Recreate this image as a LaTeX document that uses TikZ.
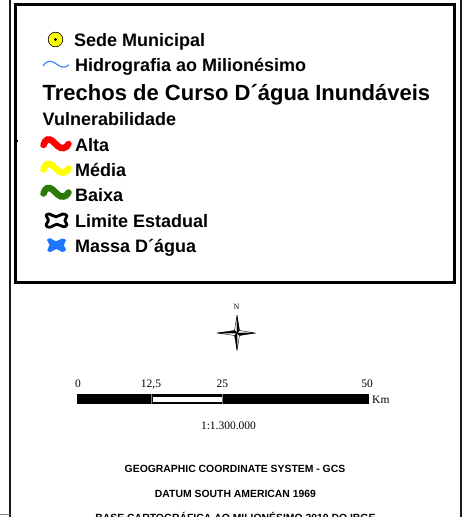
\documentclass[tikz,border=0pt]{standalone}
\usepackage{fontspec}
\setmainfont{Liberation Sans}
\newfontfamily\serifnum{Liberation Serif}
\definecolor{hidro}{HTML}{3A86FF}
\definecolor{massa}{HTML}{1E78FF}
\definecolor{vgreen}{HTML}{2A7A0A}
\definecolor{vyellow}{HTML}{FFFF00}
\definecolor{vred}{HTML}{FF0000}
\newcommand\wavecurve{(0,0) .. controls (2,-6) and (5,-7) .. (9,-4) .. controls (13,-0.5) and (16,4) .. (20,3) .. controls (23,2) .. (25,-1)}
\begin{document}
\begin{tikzpicture}[x=1pt,y=-1pt,
  legtext/.style={anchor=base west,inner sep=0pt,font=\fontsize{18}{20}\selectfont\bfseries},
  foot/.style={anchor=base,inner sep=0pt,font=\fontsize{10.4}{12}\selectfont\bfseries},
  scalelab/.style={anchor=base,inner sep=0pt,font=\serifnum\fontsize{11.5}{13}\selectfont},
  wavestyle/.style={line width=6.5pt,line cap=round},
  arm/.style={draw=black,line width=0.4pt,line join=miter}]
\useasboundingbox (0,0) rectangle (463,517);
\fill[white] (0,0) rectangle (463,517);
% outer frame lines
\draw[line width=2pt,black!90] (10.3,0) -- (10.3,517);
\draw[line width=2pt,black!90] (460.7,0) -- (460.7,517);
\draw[line width=0.8pt,gray] (0,514) -- (9.5,514);
% legend box
\draw[line width=3pt] (15.3,4) rectangle (454.3,282);
\fill (16.5,140) rectangle (18,141.5);
% Sede Municipal
\filldraw[fill=vyellow,draw=black,line width=0.6pt] (55.5,39.5) circle (7.3);
\fill (55.5,39.5) circle (1.6);
\node[legtext] (sede) at (74,46) {Sede Municipal};
% Hidrografia
\draw[hidro,line width=1.2pt] (43,66) .. controls (46,61) and (50,60) .. (55,63) .. controls (60,67) and (64,69) .. (69,65);
\node[legtext] (hidro) at (75,71) {Hidrografia ao Milionésimo};
\node[anchor=base west,inner sep=0pt,font=\fontsize{22}{24}\selectfont\bfseries] (trechos) at (42.5,100) {Trechos de Curso D´água Inundáveis};
\node[legtext] (vuln) at (42.5,125) {Vulnerabilidade};
% waves
\draw[wavestyle,vred,shift={(43.5,145)}] \wavecurve;
\node[legtext] (alta) at (75,151) {Alta};
\draw[wavestyle,vyellow,shift={(43.5,169.5)}] \wavecurve;
\node[legtext] (media) at (75,176) {Média};
\draw[wavestyle,vgreen,shift={(43.5,193.5)}] \wavecurve;
\node[legtext] (baixa) at (75,201) {Baixa};
% Limite Estadual
\draw[line width=2.8pt,line join=round] plot[smooth cycle,tension=0.6] coordinates {(46,215.5) (49.5,214) (56,216.8) (62.5,214) (67,215.8) (64.8,220.3) (67,224.8) (63.5,226.8) (57,224.3) (49.5,227.3) (46,225) (48.5,220.3)};
\node[legtext] (limite) at (75,227) {Limite Estadual};
% Massa
\fill[massa] plot[smooth cycle,tension=0.6] coordinates {(47,240) (50.5,238.3) (56,241.3) (62,238.5) (66,240.3) (63.8,245) (66,249.8) (62,252) (56.5,249) (50.5,252) (47.3,250) (49.5,245)};
\node[legtext] (massa) at (75,252) {Massa D´água};
% compass
\coordinate (c) at (237,333);
\coordinate (ct) at (237,315);
\coordinate (cb) at (237,350.5);
\coordinate (cl) at (217,333);
\coordinate (cr) at (255.5,333);
\coordinate (ne) at (239.5,330.5);
\coordinate (nw) at (234.5,330.5);
\coordinate (se) at (239.5,335.5);
\coordinate (sw) at (234.5,335.5);
\filldraw[arm,fill=white] (ct) -- (c) -- (nw) -- cycle;
\filldraw[arm,fill=black] (ct) -- (c) -- (ne) -- cycle;
\filldraw[arm,fill=white] (cr) -- (c) -- (ne) -- cycle;
\filldraw[arm,fill=black] (cr) -- (c) -- (se) -- cycle;
\filldraw[arm,fill=white] (cb) -- (c) -- (se) -- cycle;
\filldraw[arm,fill=black] (cb) -- (c) -- (sw) -- cycle;
\filldraw[arm,fill=white] (cl) -- (c) -- (sw) -- cycle;
\filldraw[arm,fill=black] (cl) -- (c) -- (nw) -- cycle;
\node[inner sep=0pt,font=\serifnum\fontsize{8}{9}\selectfont] (north) at (236.5,307) {N};
% scale bar
\fill (77,394) rectangle (369,404);
\fill[white] (152.5,396.5) rectangle (221.5,401.5);
\draw[gray,line width=0.4pt] (151,394) -- (151,404);
\draw[gray,line width=0.4pt] (222.3,394) -- (222.3,404);
\node[scalelab] (s0) at (78,387) {0};
\node[scalelab] (s1) at (151,387) {12,5};
\node[scalelab] (s2) at (222.3,387) {25};
\node[scalelab] (s3) at (367,387) {50};
\node[scalelab,anchor=base west] (km) at (372,403) {Km};
\node[scalelab] (ratio) at (228.5,429) {1:1.300.000};
% footer texts
\node[foot] (gcs) at (235,472) {GEOGRAPHIC COORDINATE SYSTEM - GCS};
\node[foot] (datum) at (235.5,497.3) {DATUM SOUTH AMERICAN 1969};
\node[foot] (base) at (235.5,521.8) {BASE CARTOGRÁFICA AO MILIONÉSIMO 2010 DO IBGE};
\end{tikzpicture}
\end{document}
